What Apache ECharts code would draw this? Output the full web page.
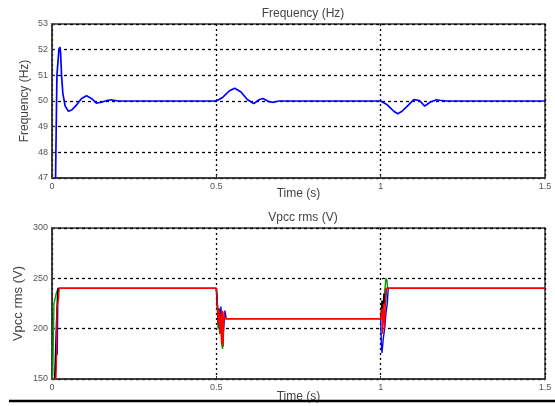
<!DOCTYPE html>
<html>
<head>
<meta charset="utf-8">
<script src="https://cdn.jsdelivr.net/npm/echarts@6/dist/echarts.min.js"></script>
<style>
  html, body { margin: 0; padding: 0; background: #fff; }
  #chart { width: 555px; height: 406px; }
</style>
</head>
<body>
<div id="chart"></div>
<script>
// frequency response [t, Hz]
var freqPts = [
  [0.009, 45], [0.012, 48.2], [0.013, 48.2], [0.015, 51], [0.018, 51],
  [0.021, 52.0], [0.024, 52.1], [0.026, 51.9], [0.029, 51.0], [0.033, 50.3],
  [0.04, 49.8], [0.05, 49.6], [0.06, 49.65], [0.075, 49.85], [0.09, 50.1],
  [0.105, 50.2], [0.12, 50.1], [0.135, 49.92], [0.15, 49.95], [0.17, 50.03],
  [0.18, 50.05], [0.2, 50], [0.5, 50], [0.52, 50.15], [0.54, 50.4],
  [0.556, 50.5], [0.575, 50.35], [0.595, 50.05], [0.614, 49.9], [0.63, 50.05],
  [0.642, 50.1], [0.66, 49.97], [0.675, 49.95], [0.69, 50.0], [0.7, 50],
  [1.0, 50], [1.02, 49.85], [1.04, 49.6], [1.052, 49.5], [1.065, 49.6],
  [1.085, 49.85], [1.1, 50.05], [1.106, 50.1], [1.118, 50.02], [1.134, 49.8],
  [1.15, 49.95], [1.17, 50.05], [1.18, 50.03], [1.2, 50], [1.5, 50]
];

// Vpcc rms [t, V] per trace
var vGreen = [
  [0.002, 150], [0.006, 225], [0.01, 225], [0.013, 235], [0.018, 240],
  [0.5, 240], [0.502, 232], [0.505, 200], [0.508, 210], [0.51, 195],
  [0.513, 215], [0.516, 185], [0.519, 180], [0.522, 210], [0.525, 210],
  [1.0, 210], [1.005, 215], [1.01, 228], [1.013, 240], [1.016, 250],
  [1.019, 248], [1.021, 240], [1.5, 240]
];
var vBlue = [
  [0.01, 150], [0.012, 172], [0.016, 175], [0.018, 240],
  [0.5, 240], [0.505, 215], [0.51, 200], [0.514, 222], [0.518, 190],
  [0.522, 198], [0.526, 218], [0.53, 210],
  [1.0, 210], [1.002, 185], [1.004, 176], [1.008, 190], [1.012, 200],
  [1.016, 215], [1.02, 225], [1.023, 240], [1.5, 240]
];
var vBlack = [
  [0.008, 150], [0.015, 220], [0.017, 235], [0.02, 240],
  [0.5, 240], [0.503, 225], [0.506, 205], [0.509, 220], [0.512, 198],
  [0.515, 212], [0.518, 202], [0.52, 210],
  [1.0, 210], [1.004, 228], [1.007, 220], [1.01, 235], [1.014, 222],
  [1.017, 240], [1.02, 240], [1.5, 240]
];
var vRed = [
  [0.005, 150], [0.012, 150], [0.014, 175], [0.015, 220], [0.018, 220],
  [0.02, 230], [0.022, 240], [0.5, 240], [0.503, 225], [0.506, 205],
  [0.508, 220], [0.511, 195], [0.514, 215], [0.516, 185], [0.518, 218],
  [0.521, 182], [0.523, 217], [0.525, 210], [1.0, 210], [1.004, 220],
  [1.006, 195], [1.009, 225], [1.012, 200], [1.015, 232], [1.018, 240],
  [1.5, 240]
];

var xTicks = { min: 0, max: 1.5, step: 0.5 };

var font = 'Liberation Sans';
var labelGray = '#555';

function xAxisOpt(gridIndex, nameGap) {
  return {
    type: 'value',
    gridIndex: gridIndex,
    min: xTicks.min,
    max: xTicks.max,
    interval: xTicks.step,
    name: 'Time (s)',
    nameLocation: 'middle',
    nameGap: nameGap,
    nameMoveOverlap: false,
    nameTextStyle: { color: '#444', fontSize: 12, fontFamily: font },
    axisLine: { lineStyle: { color: '#333', width: 1.5 } },
    axisTick: { inside: true, length: 3, lineStyle: { color: '#333' } },
    axisLabel: { color: labelGray, fontSize: 9, fontFamily: font, margin: 4 },
    splitLine: { show: true, lineStyle: { color: '#000', type: [2, 3], width: 1.3 } }
  };
}

function yAxisOpt(gridIndex, min, max, step, name, nameGap, nameSize) {
  return {
    type: 'value',
    gridIndex: gridIndex,
    min: min,
    max: max,
    interval: step,
    name: name,
    nameLocation: 'middle',
    nameGap: nameGap,
    nameMoveOverlap: false,
    nameTextStyle: { color: '#444', fontSize: nameSize, fontFamily: font },
    axisLine: { show: true, lineStyle: { color: '#333', width: 1.5 } },
    axisTick: { inside: true, length: 3, lineStyle: { color: '#333' } },
    axisLabel: { color: labelGray, fontSize: 9, fontFamily: font, margin: 4 },
    splitLine: { show: true, lineStyle: { color: '#000', type: [3, 3], width: 1.3 } }
  };
}

function lineSeries(name, data, color, xi, width) {
  return {
    name: name,
    type: 'line',
    xAxisIndex: xi,
    yAxisIndex: xi,
    data: data,
    showSymbol: false,
    clip: true,
    animation: false,
    lineStyle: { color: color, width: width }
  };
}

var chart = echarts.init(document.getElementById('chart'));
chart.setOption({
  backgroundColor: '#fff',
  animation: false,
  title: [
    { text: 'Frequency (Hz)', left: 298, top: 3, textAlign: 'center',
      textStyle: { color: '#444', fontSize: 12, fontWeight: 'normal', fontFamily: font } },
    { text: 'Vpcc rms (V)', left: 298, top: 207, textAlign: 'center',
      textStyle: { color: '#444', fontSize: 12, fontWeight: 'normal', fontFamily: font } }
  ],
  grid: [
    { left: 52, right: 10, top: 24, height: 154, show: true, borderColor: '#333', borderWidth: 1.5, backgroundColor: '#fff' },
    { left: 52, right: 10, top: 228, height: 151, show: true, borderColor: '#333', borderWidth: 1.5, backgroundColor: '#fff' }
  ],
  xAxis: [xAxisOpt(0, 10), xAxisOpt(1, 12)],
  yAxis: [
    yAxisOpt(0, 47, 53, 1, 'Frequency (Hz)', 21, 12),
    yAxisOpt(1, 150, 300, 50, 'Vpcc rms (V)', 27, 13)
  ],
  series: [
    lineSeries('Frequency', freqPts, '#0000ff', 0, 1.7),
    lineSeries('Va', vGreen, '#00a000', 1, 1.4),
    lineSeries('Vb', vBlue, '#0000ff', 1, 1.4),
    lineSeries('Vc', vBlack, '#000000', 1, 1.4),
    lineSeries('Vrms', vRed, '#ff0000', 1, 1.3)
  ],
  graphic: [
    { type: 'line', shape: { x1: 9, y1: 401, x2: 555, y2: 401 },
      style: { stroke: '#000', lineWidth: 2.5 }, z: 100 }
  ]
});
</script>
</body>
</html>
